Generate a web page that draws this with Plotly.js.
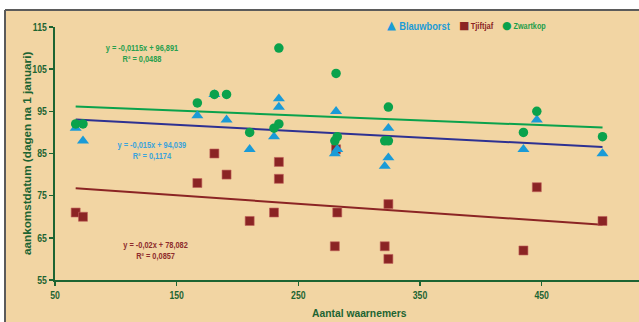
<!DOCTYPE html>
<html>
<head>
<meta charset="utf-8">
<script src="https://cdn.plot.ly/plotly-3.0.1.min.js"></script>
<style>
  html, body { margin: 0; padding: 0; background: #ffffff; }
  #chart { width: 639px; height: 322px; }
</style>
</head>
<body>
<div id="chart"></div>
<script>
// Aantal waarnemers (x) per waarneming
var waarnemers = [67, 73, 167, 181, 191, 210, 230, 234, 234, 280, 281, 282, 321, 324, 324, 435, 446, 500];
// Aankomstdatum (dagen na 1 januari)
var blauwborst = [91, 88, 94, 99, 93, 86, 89, 98, 96, 85, 95, 86, 82, 91, 84, 86, 93, 85];
var tjiftjaf   = [71, 70, 78, 85, 80, 69, 71, 83, 79, 63, 86, 71, 63, 73, 60, 62, 77, 69];
var zwartkop   = [92, 92, 97, 99, 99, 90, 91, 110, 92, 88, 104, 89, 88, 96, 88, 90, 95, 89];

// Trendline coefficients as printed on the chart: [slope, intercept, R2]
var trendBlauwborst = [-0.015, 94.039, 0.1174];
var trendTjiftjaf   = [-0.02, 78.082, 0.0857];
var trendZwartkop   = [-0.0115, 96.891, 0.0488];

var xTicks = [50, 150, 250, 350, 450];
var yTicks = [55, 65, 75, 85, 95, 105, 115];

var AX = '#1d6432';
var C_BLUE = '#1a9bd7', C_RED = '#8b2424', C_GREEN = '#0aa24c', C_NAVY = '#2e3192';
var FONT = '"Liberation Sans", Arial, sans-serif';
var BOLD = 'bold';

var xMin = Math.min.apply(null, waarnemers), xMax = Math.max.apply(null, waarnemers);
function trendTrace(c, color) {
  return {
    x: [xMin, xMax], y: [c[0] * xMin + c[1], c[0] * xMax + c[1]],
    mode: 'lines', line: { color: color, width: 2 }, hoverinfo: 'skip', showlegend: false
  };
}
function fmt(v) { return String(v).replace('.', ','); }
function eqText(c) {
  return 'y = ' + fmt(c[0]) + 'x + ' + fmt(c[1]) + '<br>R² = ' + fmt(c[2]);
}

var traces = [
  trendTrace(trendZwartkop, C_GREEN),
  trendTrace(trendBlauwborst, C_NAVY),
  trendTrace(trendTjiftjaf, C_RED),
  { x: waarnemers, y: tjiftjaf, name: 'Tjiftjaf', mode: 'markers',
    marker: { symbol: 'square', size: 9, color: C_RED, line: { width: 0.6, color: '#c0605a' } } },
  { x: waarnemers, y: blauwborst, name: 'Blauwborst', mode: 'markers',
    marker: { symbol: 'triangle-up', size: 10.5, color: C_BLUE } },
  { x: waarnemers, y: zwartkop, name: 'Zwartkop', mode: 'markers',
    marker: { symbol: 'circle', size: 9.5, color: C_GREEN } }
];

var W = 639, L = 55, T = 27, B = 42;
var plotW = W - L, plotH = 322 - T - B;
function px(x) { return (x - L) / plotW; }
function py(y) { return (322 - B - y) / plotH; }

function ann(o) {
  o.showarrow = false;
  if (!o.xanchor) o.xanchor = 'center';
  if (!o.yanchor) o.yanchor = 'middle';
  return o;
}

var annotations = [
  ann({ xref: 'x', yref: 'y', x: 121.5, y: 108.6, text: eqText(trendZwartkop),
    font: { family: FONT, size: 8.4, color: '#27a04e', weight: BOLD } }),
  ann({ xref: 'x', yref: 'y', x: 129.4, y: 85.7, text: eqText(trendBlauwborst),
    font: { family: FONT, size: 8.4, color: '#3ba3db', weight: BOLD } }),
  ann({ xref: 'x', yref: 'y', x: 132.2, y: 61.95, text: eqText(trendTjiftjaf),
    font: { family: FONT, size: 8.4, color: '#8e2c2c', weight: BOLD } }),
  // legend
  ann({ xref: 'paper', yref: 'paper', x: px(391), y: py(25), text: '▲',
    font: { family: 'DejaVu Sans', size: 11.5, color: C_BLUE } }),
  ann({ xref: 'paper', yref: 'paper', x: px(424.5), y: py(25.7), text: 'Blauwborst',
    font: { family: FONT, size: 11.2, color: C_BLUE, weight: BOLD } }),
  ann({ xref: 'paper', yref: 'paper', x: px(463.7), y: py(25.5), text: '■',
    font: { family: 'DejaVu Sans', size: 11, color: C_RED } }),
  ann({ xref: 'paper', yref: 'paper', x: px(482), y: py(26), text: 'Tjiftjaf',
    font: { family: FONT, size: 9.3, color: C_RED, weight: BOLD } }),
  ann({ xref: 'paper', yref: 'paper', x: px(507.3), y: py(25.5), text: '●',
    font: { family: 'DejaVu Sans', size: 11, color: C_GREEN } }),
  ann({ xref: 'paper', yref: 'paper', x: px(530.2), y: py(26), text: 'Zwartkop',
    font: { family: FONT, size: 9.3, color: '#1e9e4a', weight: BOLD } }),
  // axis titles
  ann({ xref: 'paper', yref: 'paper', x: px(359), y: py(312.5), text: 'Aantal waarnemers',
    font: { family: FONT, size: 11.2, color: AX, weight: BOLD } }),
  ann({ xref: 'paper', yref: 'paper', x: px(26.5), y: py(153.5), text: 'aankomstdatum (dagen na 1 januari)',
    textangle: -90, font: { family: FONT, size: 11.7, color: AX, weight: BOLD } })
];
// horizontal condensing of each annotation's text (the reference uses a narrow face)
var annSqueeze = [0.88, 0.88, 0.88, 1, 0.83, 1, 0.81, 1, 0.78, 0.92, 1];

var layout = {
  width: W, height: 322,
  margin: { l: L, r: 0, t: T, b: B, pad: 0 },
  paper_bgcolor: '#ffffff',
  plot_bgcolor: 'rgba(0,0,0,0)',
  showlegend: false,
  font: { family: FONT, color: AX },
  xaxis: {
    range: [50, 50 + plotW / 1.2167], tickvals: xTicks, ticktext: xTicks.map(String),
    showline: true, linecolor: AX, linewidth: 2, ticks: 'outside', ticklen: 4, tickwidth: 1.5, tickcolor: AX,
    showgrid: false, zeroline: false, automargin: false,
    tickfont: { family: FONT, size: 10.6, color: AX, weight: BOLD }
  },
  yaxis: {
    range: [55, 115], tickvals: yTicks, ticktext: yTicks.map(String),
    showline: true, linecolor: AX, linewidth: 2, ticks: 'outside', ticklen: 4, tickwidth: 1.5, tickcolor: AX,
    showgrid: false, zeroline: false, automargin: false,
    tickfont: { family: FONT, size: 10.6, color: AX, weight: BOLD }
  },
  shapes: [
    // tan panel
    { type: 'rect', xref: 'paper', yref: 'paper', layer: 'below',
      x0: px(5), x1: 1.6, y0: -1, y1: py(10),
      fillcolor: '#f2d5a3', line: { width: 0 } },
    // grey frame: top and left edges only
    { type: 'line', xref: 'paper', yref: 'paper', layer: 'below',
      x0: px(5), x1: 1.6, y0: py(10), y1: py(10), line: { color: '#5b5b5b', width: 2 } },
    { type: 'line', xref: 'paper', yref: 'paper', layer: 'below',
      x0: px(5), x1: px(5), y0: py(10), y1: -1, line: { color: '#5b5b5b', width: 2 } }
  ],
  annotations: annotations
};

function squeeze(el, s) {
  if (s === 1) return;
  var ax = parseFloat(el.getAttribute('x')) || 0;
  var t = el.getAttribute('transform') || '';
  el.setAttribute('transform', t + ' translate(' + ax + ',0) scale(' + s + ',1) translate(' + (-ax) + ',0)');
}

Plotly.newPlot('chart', traces, layout, { staticPlot: true, displayModeBar: false }).then(function (gd) {
  gd.querySelectorAll('.xtick text, .ytick text').forEach(function (el) { squeeze(el, 0.82); });
  gd.querySelectorAll('g.annotation').forEach(function (g) {
    var i = parseInt(g.getAttribute('data-index'), 10);
    var t = g.querySelector('text.annotation-text');
    if (t && !isNaN(i)) squeeze(t, annSqueeze[i]);
  });
});
</script>
</body>
</html>
